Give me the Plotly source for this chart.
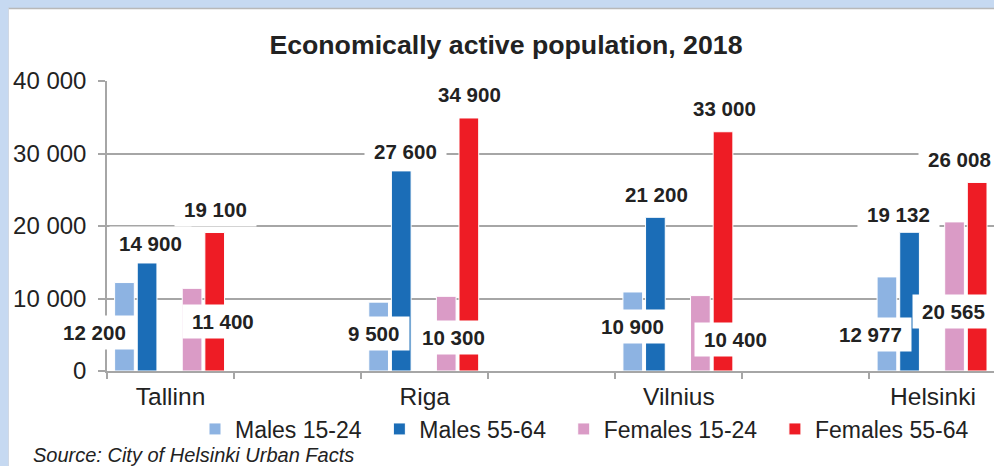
import plotly.graph_objects as go

# ---- data ----
cities = ["Tallinn", "Riga", "Vilnius", "Helsinki"]
category_axis = ["Tallinn", " ", "Riga", "  ", "Vilnius", "   ", "Helsinki"]
series_names = ["Males 15-24", "Males 55-64", "Females 15-24", "Females 55-64"]
males_15_24 = [12200, 9500, 10900, 12977]
males_55_64 = [14900, 27600, 21200, 19132]
females_15_24 = [11400, 10300, 10400, 20565]
females_55_64 = [19100, 34900, 33000, 26008]
y_tick_values = [0, 10000, 20000, 30000, 40000]

# ---- styles ----
colors = ["#8DB3E2", "#1B6DB7", "#DA9BC6", "#EE1C25"]
bar_offsets = [-0.44, -0.262, 0.092, 0.27]
bar_width = 0.155
# data label placement (category offset, height in data units) per series per city
label_dx = [
    [-0.60, -0.40, -0.365, -0.495],
    [-0.16, -0.153, -0.173, -0.275],
    [0.41, 0.224, 0.448, 0.16],
    [0.35, 0.35, 0.36, 0.21],
]
label_y = [
    [5380, 5240, 6200, 5100],
    [17650, 30340, 24400, 21650],
    [6760, 4690, 4400, 8140],
    [22340, 38200, 36270, 29240],
]

all_series = [males_15_24, males_55_64, females_15_24, females_55_64]
FONT = "Liberation Sans, Arial, sans-serif"
TXT = "#222222"
GRID = "#A6A6A6"
X_RANGE = [-0.5, 6.48]

fig = go.Figure()
for name, vals, col, off in zip(series_names, all_series, colors, bar_offsets):
    fig.add_trace(go.Bar(
        x=cities, y=vals, name=name + "\u00a0\u00a0",
        marker=dict(color=col, line=dict(color="white", width=1)),
        offset=off, width=bar_width,
    ))

city_index = {c: category_axis.index(c) for c in cities}

def fmt(v):
    return f"{v:,}".replace(",", " ")

def cat_to_paper(pos):
    return (pos - X_RANGE[0]) / (X_RANGE[1] - X_RANGE[0])

annotations = []
for s, vals in enumerate(all_series):
    for i, c in enumerate(cities):
        annotations.append(dict(
            x=cat_to_paper(city_index[c] + label_dx[s][i]), y=label_y[s][i],
            xref="paper", yref="y",
            text="\u2009<b>" + fmt(vals[i]) + "</b>\u2009", showarrow=False,
            font=dict(family=FONT, size=20.5, color=TXT),
            bgcolor="white", borderpad=5, xanchor="center", yanchor="middle",
        ))

L, T, W, H = 107, 81, 887, 290
def px(x):
    return (x - L) / W
def py(y):
    return (T + H - y) / H

annotations.append(dict(
    x=px(31), y=py(455), xref="paper", yref="paper", xanchor="left", yanchor="middle",
    text="<i>Source: City of Helsinki Urban Facts</i>", showarrow=False,
    font=dict(family=FONT, size=20, color=TXT),
))

band = "#C6D9F1"
shapes = [
    dict(type="rect", xref="paper", yref="paper", x0=px(0), x1=px(8.5), y0=py(466), y1=py(0),
         fillcolor=band, line=dict(width=0), layer="below"),
    dict(type="rect", xref="paper", yref="paper", x0=px(0), x1=px(994), y0=py(8.5), y1=py(0),
         fillcolor=band, line=dict(width=0), layer="below"),
    dict(type="line", xref="paper", yref="paper", x0=px(8.5), x1=px(994), y0=py(8.5), y1=py(8.5),
         line=dict(color="#B8B8B8", width=1.5)),
    dict(type="line", xref="paper", yref="paper", x0=px(8.5), x1=px(8.5), y0=py(466), y1=py(8.5),
         line=dict(color="#D0D8E4", width=1)),
]

fig.update_layout(
    width=994, height=466,
    margin=dict(l=L, r=994 - L - W, t=T, b=466 - T - H, autoexpand=False),
    paper_bgcolor="white", plot_bgcolor="white",
    separators=". ",
    font=dict(family=FONT, color=TXT),
    title=dict(text="<b>Economically active population, 2018</b>", x=0.509, xanchor="center",
               y=1 - 44.5 / 466, yanchor="middle", font=dict(family=FONT, size=26.7, color=TXT)),
    barmode="overlay",
    showlegend=True,
    legend=dict(orientation="h", x=px(195), xanchor="left", y=py(429), yanchor="middle",
                font=dict(family=FONT, size=23, color=TXT), bgcolor="rgba(0,0,0,0)",
                traceorder="normal", itemclick=False),
    xaxis=dict(type="category", categoryorder="array", categoryarray=category_axis,
               range=X_RANGE, tickson="boundaries", ticks="outside", ticklen=6,
               tickcolor=GRID, tickwidth=1.5, showline=True, linecolor=GRID, linewidth=1.5,
               showgrid=False, tickfont=dict(family=FONT, size=24.5, color=TXT),
               ticklabelstandoff=3, fixedrange=True),
    yaxis=dict(range=[0, 40000], tickvals=y_tick_values, tickformat=",d",
               ticks="outside", ticklen=7, tickcolor=GRID, tickwidth=1.5,
               showline=True, linecolor=GRID, linewidth=1.5,
               showgrid=True, gridcolor=GRID, gridwidth=1.5, zeroline=False,
               tickfont=dict(family=FONT, size=24, color=TXT), ticklabelstandoff=7,
               fixedrange=True),
    annotations=annotations,
    shapes=shapes,
)

fig.write_html(
    "out.html",
    config={"displayModeBar": False},
    post_script="document.body.style.margin='0';document.body.style.padding='0';"
                "document.documentElement.style.overflow='hidden';",
)
